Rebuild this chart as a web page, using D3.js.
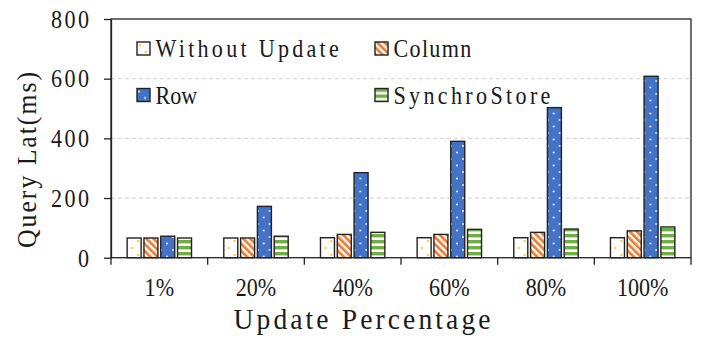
<!DOCTYPE html>
<html>
<head>
<meta charset="utf-8">
<script src="https://cdn.jsdelivr.net/npm/d3@7"></script>
<style>
  body { margin: 0; background: #fff; }
  svg { display: block; }
  text { font-family: "Liberation Serif", "DejaVu Serif", serif; fill: #1a1a1a; }
</style>
</head>
<body>
<div id="chart"></div>
<script>
let width = 710;
let height = 339;

let categories = ["1%", "20%", "40%", "60%", "80%", "100%"];
let seriesNames = ["Without Update", "Column", "Row", "SynchroStore"];
let withoutUpdate = [66, 66, 67, 67, 67, 67];
let column = [66, 66, 78, 78, 85, 90];
let row = [72, 172, 285, 390, 503, 608];
let synchroStore = [66, 72, 85, 95, 96, 103];
let yTicks = [0, 200, 400, 600, 800];

let seriesValues = [withoutUpdate, column, row, synchroStore];
let fills = ["url(#pWithout)", "url(#pColumn)", "url(#pRow)", "url(#pSynchro)"];

let margin = { top: 19, right: 19, bottom: 81.3, left: 111 };
let cell = 13.2;   // original font is monospaced: width per character

let svg = d3.select("#chart").append("svg")
  .attr("width", width)
  .attr("height", height);

// put a squeezed label at (x, y); stretch the spacing up to the target width
function label(parent, x, y, str, size, anchor, target, rotate, sx) {
  sx = sx || 0.85;
  let g = parent.append("g")
    .attr("transform", `translate(${x},${y})` + (rotate ? ` rotate(${rotate})` : ""));
  let t = g.append("text")
    .attr("transform", `scale(${sx},1)`)
    .attr("text-anchor", anchor)
    .attr("font-size", size + "px")
    .text(str);
  let w = target || str.length * cell - 1.5;
  if (t.node().getComputedTextLength() * sx < w) {
    t.attr("textLength", w / sx).attr("lengthAdjust", "spacing");
  }
  return t;
}

// patterns
let defs = svg.append("defs");

let p1 = defs.append("pattern").attr("id", "pWithout")
  .attr("patternUnits", "userSpaceOnUse").attr("width", 12).attr("height", 14);
p1.append("rect").attr("width", 12).attr("height", 14).attr("fill", "#fff");
p1.append("circle").attr("cx", 3).attr("cy", 3).attr("r", 1.1).attr("fill", "#FFC000");
p1.append("circle").attr("cx", 9).attr("cy", 10).attr("r", 1.1).attr("fill", "#FFC000");

let p2 = defs.append("pattern").attr("id", "pColumn")
  .attr("patternUnits", "userSpaceOnUse").attr("width", 5).attr("height", 5)
  .attr("patternTransform", "rotate(-45)");
p2.append("rect").attr("width", 5).attr("height", 5).attr("fill", "#fff");
p2.append("rect").attr("width", 2.7).attr("height", 5).attr("fill", "#ED7D31");

let p3 = defs.append("pattern").attr("id", "pRow")
  .attr("patternUnits", "userSpaceOnUse").attr("width", 12).attr("height", 13);
p3.append("rect").attr("width", 12).attr("height", 13).attr("fill", "#4472C4");
p3.append("circle").attr("cx", 2).attr("cy", 3).attr("r", 0.9).attr("fill", "#fff");
p3.append("circle").attr("cx", 8).attr("cy", 9.5).attr("r", 0.9).attr("fill", "#fff");

let p4 = defs.append("pattern").attr("id", "pSynchro")
  .attr("patternUnits", "userSpaceOnUse").attr("width", 6).attr("height", 6);
p4.append("rect").attr("width", 6).attr("height", 6).attr("fill", "#fff");
p4.append("rect").attr("width", 6).attr("height", 3.4).attr("fill", "#70AD47");

// scales
let x0 = d3.scaleBand()
  .domain(categories)
  .range([margin.left, width - margin.right]);

let x1 = d3.scaleBand()
  .domain(seriesNames)
  .range([0, x0.bandwidth()])
  .paddingInner(0.167)
  .paddingOuter(0.96);

let y = d3.scaleLinear()
  .domain([0, 800])
  .range([height - margin.bottom, margin.top]);

// grid lines
svg.selectAll(".grid")
  .data([200, 400, 600])
  .join("line")
  .attr("class", "grid")
  .attr("x1", margin.left)
  .attr("x2", width - margin.right)
  .attr("y1", d => y(d))
  .attr("y2", d => y(d))
  .attr("stroke", "#d9d9d9")
  .attr("stroke-width", 1.3)
  .attr("stroke-dasharray", "4,3");

// bars
let groups = svg.selectAll(".grp")
  .data(categories)
  .join("g")
  .attr("class", "grp")
  .attr("transform", d => `translate(${x0(d)},0)`);

groups.selectAll("rect")
  .data((c, i) => seriesNames.map((s, j) => ({ s: s, j: j, v: seriesValues[j][i] })))
  .join("rect")
  .attr("x", d => x1(d.s))
  .attr("y", d => y(d.v))
  .attr("width", x1.bandwidth())
  .attr("height", d => y(0) - y(d.v))
  .attr("fill", d => fills[d.j])
  .attr("stroke", "#222")
  .attr("stroke-width", 1.4);

// frame
svg.append("rect")
  .attr("x", margin.left)
  .attr("y", margin.top)
  .attr("width", width - margin.left - margin.right)
  .attr("height", height - margin.top - margin.bottom)
  .attr("fill", "none")
  .attr("stroke", "#222")
  .attr("stroke-width", 1.3);

// y axis (labels drawn squeezed below)
let yAxis = svg.append("g")
  .attr("transform", `translate(${margin.left},0)`)
  .call(d3.axisLeft(y).tickValues(yTicks).tickSize(7).tickFormat("").tickSizeOuter(0));
yAxis.select(".domain").attr("stroke", "#222").attr("stroke-width", 1.3);
yAxis.selectAll(".tick line").attr("stroke", "#222").attr("stroke-width", 1.3);

yTicks.forEach(v => label(svg, 89, y(v) + 8.8, String(v), 26, "end"));

// x axis: ticks at band edges, labels at centers
let edges = categories.map(c => x0(c)).concat([width - margin.right]);
svg.selectAll(".xtick")
  .data(edges)
  .join("line")
  .attr("class", "xtick")
  .attr("x1", d => d).attr("x2", d => d)
  .attr("y1", y(0)).attr("y2", y(0) + 7)
  .attr("stroke", "#222")
  .attr("stroke-width", 1.3);

categories.forEach(c => label(svg, x0(c) + x0.bandwidth() / 2, 296, c, 26, "middle"));

// axis titles
label(svg, 362, 329, "Update Percentage", 29, "middle", 257, 0, 0.95);
label(svg, 36, 160, "Query Lat(ms)", 28, "middle", 176, -90, 0.92);

// legend
let legendPos = [[137, 42], [375, 42], [137, 88.5], [375, 88.5]];
seriesNames.forEach((s, i) => {
  let g = svg.append("g")
    .attr("class", "legend")
    .attr("transform", `translate(${legendPos[i][0]},${legendPos[i][1]})`);
  g.append("rect")
    .attr("width", 13)
    .attr("height", 13)
    .attr("fill", fills[i])
    .attr("stroke", "#222")
    .attr("stroke-width", 1.4);
  label(g, 18.5, 15, s, 26, "start");
});
</script>
</body>
</html>
